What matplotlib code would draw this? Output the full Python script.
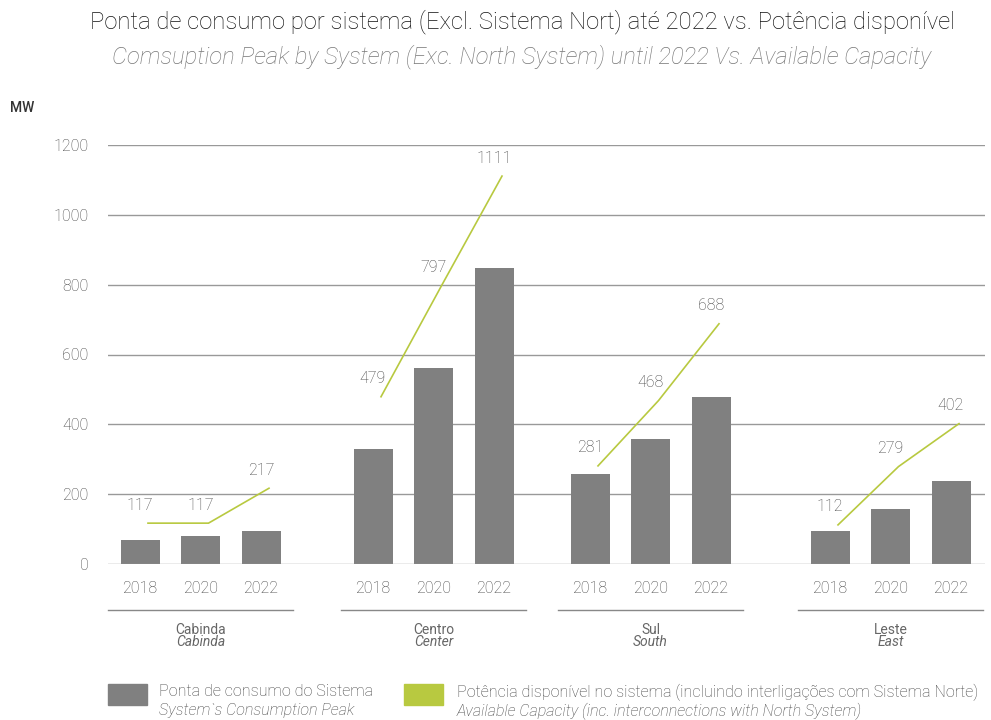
import numpy as np
import matplotlib.pyplot as plt
from matplotlib.patches import Rectangle

plt.rcParams['font.family'] = ['Roboto', 'DejaVu Sans']

systems = ["Cabinda", "Centro", "Sul", "Leste"]
systems_en = ["Cabinda", "Center", "South", "East"]
years = ["2018", "2020", "2022"]

# consumption peak (MW) per system and year
peak = [[69, 80, 95],
        [330, 562, 848],
        [258, 358, 479],
        [95, 158, 238]]

# available capacity (MW) per system and year
capacity = [[117, 117, 217],
            [479, 797, 1111],
            [281, 468, 688],
            [112, 279, 402]]

bar_col = "#808080"
line_col = "#b8c940"
txt_col = "#444444"

# group start positions (first bar centre) and spacing inside a group
group_start = [140, 373, 590, 830]
step = 60.5
bw = 39

fig = plt.figure(figsize=(9.91, 7.2), dpi=100)
ax = fig.add_axes([108 / 991, 1 - 564 / 720, 877 / 991, 419 / 720])
ax.set_xlim(108, 985)
ax.set_ylim(0, 1200)

for v in range(0, 1201, 200):
    ax.axhline(v, color="#999999", lw=1, zorder=0 if v else 2.5)

for g in range(len(systems)):
    xs = group_start[g] + step * np.arange(3)
    ax.bar(xs, peak[g], width=bw, color=bar_col, zorder=2)
    ax.plot(xs + 8, capacity[g], color=line_col, lw=1.2, zorder=3, clip_on=False)
    for x, v in zip(xs, capacity[g]):
        ax.text(x, v + 30, str(v), ha="center", va="bottom", fontsize=11.5,
                color=txt_col, fontweight="light")
    for x, yr in zip(xs, years):
        ax.text(x, -70, yr, ha="center", va="center", fontsize=11.5, color=txt_col,
                fontweight="light")
    # group underline and system name
    x0 = xs[0] - 32
    x1 = xs[-1] + 32
    ax.plot([x0, x1], [-132, -132], color="#888888", lw=1, clip_on=False)
    xc = (x0 + x1) / 2
    ax.text(xc, -188, systems[g], ha="center", va="center", fontsize=10,
            color="#666666")
    ax.text(xc, -224, systems_en[g], ha="center", va="center", fontsize=10,
            color="#666666", style="italic")

ax.set_yticks(range(0, 1201, 200))
ax.tick_params(axis="y", length=0, pad=14, labelsize=11.5, labelcolor=txt_col)
for lbl in ax.get_yticklabels():
    lbl.set_fontweight("light")
ax.set_xticks([])
for s in ax.spines.values():
    s.set_visible(False)

fig.text(10 / 991, 1 - 108 / 720, "MW", fontsize=10, fontweight="medium",
         color="#333333", va="center")

fig.text(522 / 991, 1 - 22 / 720,
         "Ponta de consumo por sistema (Excl. Sistema Nort) até 2022 vs. Potência disponível",
         ha="center", va="center", fontsize=17.2, color="#111111", fontweight="light")
fig.text(522 / 991, 1 - 57 / 720,
         "Comsuption Peak by System (Exc. North System) until 2022 Vs. Available Capacity",
         ha="center", va="center", fontsize=17.2, color="#777777", style="italic",
         fontweight="light")

# legend
fig.add_artist(Rectangle((108 / 991, 1 - 705 / 720), 39 / 991, 21 / 720,
                         transform=fig.transFigure, color=bar_col))
fig.add_artist(Rectangle((404 / 991, 1 - 705 / 720), 39 / 991, 21 / 720,
                         transform=fig.transFigure, color=line_col))
fig.text(159 / 991, 1 - 692 / 720, "Ponta de consumo do Sistema", fontsize=11.6,
         color=txt_col, va="center", fontweight="light")
fig.text(159 / 991, 1 - 711 / 720, "System`s Consumption Peak", fontsize=11.6,
         color=txt_col, va="center", style="italic", fontweight="light")
fig.text(457 / 991, 1 - 692 / 720,
         "Potência disponível no sistema (incluindo interligações com Sistema Norte)",
         fontsize=11.6, color=txt_col, va="center", fontweight="light")
fig.text(457 / 991, 1 - 711 / 720,
         "Available Capacity (inc. interconnections with North System)",
         fontsize=11.6, color=txt_col, va="center", style="italic", fontweight="light")

fig.savefig("out.png", dpi=100)
